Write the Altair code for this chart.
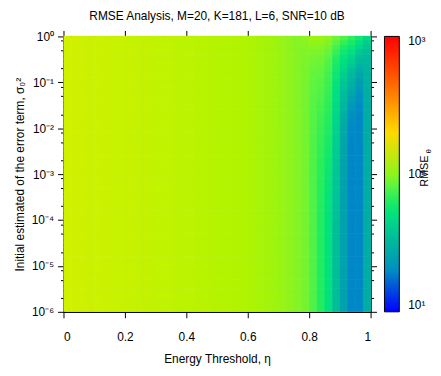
import altair as alt
import pandas as pd

FONT = "Liberation Sans"
FS = 12

# ---- grid (energy threshold columns, sigma rows: 10 rows per decade, top row first)
eta_edges = [round(0.025 * k, 4) for k in range(41)]
log_sigma_edges = [round(-0.1 * r, 2) for r in range(61)]
N_ROWS = 60

# RMSE read per column (rows without vertical change)
base_rmse = [138, 137, 136, 135, 134, 133, 132, 131, 130, 129,
             128, 127, 126, 125, 124, 123, 122, 121, 120, 119,
             118, 117, 116, 115, 113, 111, 109, 107, 104, 100,
             96, 90, 78, 65, 51, 36, 25, 19, 19, 28]


def column(head, tail_value):
    return head + [tail_value] * (N_ROWS - len(head))


# columns whose RMSE changes from the top row (sigma^2 = 1) downwards
profile_rmse = {
    31: column([100, 98, 96.5, 95, 94, 93, 92.5, 92, 91.5, 91, 91, 90.5, 90.5], 90),
    32: column([106, 101, 97, 94, 91, 89, 87.5, 86, 85, 84, 83, 82.5, 82, 81.5, 81,
                80.5, 80, 80, 79.5, 79.5, 79, 79, 78.5, 78.5], 78),
    33: column([105, 100, 96, 93, 90, 88, 86, 84, 82.5, 81, 80, 79, 78, 77, 76, 75, 74,
                73, 72.5, 72, 71, 70.5, 70, 69.5, 69, 68.5, 68, 67.5, 67.5, 67, 67, 66.5,
                66.5, 66, 66, 66, 65.5, 65.5, 65.5, 65.5], 65),
    34: column([100, 94, 89, 85, 82, 79, 77, 75.5, 74, 73, 72, 71, 70, 69, 68, 67.5,
                66.5, 65.5, 65, 64, 63, 62, 61, 60, 59, 58, 57, 56.5, 56, 55, 54.5, 54,
                53.5, 53, 52.5, 52.5, 52, 52, 51.5, 51.5], 51),
    35: column([88, 81, 75, 70, 66, 63, 60, 58, 56, 54, 52.5, 51, 50, 49, 48, 47, 46.5,
                45.5, 45, 44, 43.5, 43, 42.5, 42, 41.5, 41, 40.5, 40, 39.5, 39, 38.5,
                38.5, 38, 38, 37.5, 37.5, 37, 37, 36.5, 36.5], 36),
    36: column([78, 69, 62, 57, 53, 50, 47, 45, 42, 40, 38, 36.5, 35, 34, 33, 32, 30.5,
                29, 28, 27.5, 27, 26.5, 26, 26, 25.5, 25.5, 25.5], 25),
    37: column([68, 60, 54, 50, 46, 42, 39, 36, 33, 31, 29, 28, 26, 24.5, 23, 22, 21,
                20.5, 20, 19.5, 19.5], 19),
    38: column([57, 49, 44, 40, 36, 33, 30, 28, 26, 24.5, 23, 22, 21, 20.5, 20, 19.5,
                19.5], 19),
    39: column([45, 41, 38, 36, 34, 33, 32, 31, 30.5, 30, 29.5, 29, 29, 28.5, 28.5], 28),
}

rows = []
for i in range(40):
    prof = profile_rmse.get(i)
    for r in range(N_ROWS):
        rows.append({
            "eta0": eta_edges[i], "eta1": eta_edges[i + 1],
            "s_hi": 10 ** log_sigma_edges[r], "s_lo": 10 ** log_sigma_edges[r + 1],
            "rmse": prof[r] if prof else base_rmse[i],
        })
df = pd.DataFrame(rows)

# ---- colour map (position 0 = 10^1 ... 1 = 10^3)
cmap_pos = [0.0, 0.05, 0.10, 0.155, 0.21, 0.28, 0.35, 0.405, 0.46, 0.53, 0.585,
            0.64, 0.695, 0.765, 0.84, 1.0]
cmap_colors = ["#0000ff", "#0040f0", "#0070d8", "#0090c0", "#00a8a8", "#00c098",
               "#00e080", "#20ec60", "#60f440", "#b0f400", "#dcf000", "#ffe000",
               "#ffc000", "#ff9000", "#ff6000", "#ff0000"]
color_scale = alt.Scale(type="log", domain=[10 ** (1 + 2 * p) for p in cmap_pos],
                        range=cmap_colors, interpolate="rgb")

x_ticks = [0, 0.2, 0.4, 0.6, 0.8, 1]
y_major = [10.0 ** e for e in range(-6, 1)]
y_minor = [m * 10.0 ** e for e in range(-6, 0) for m in (2, 5, 8)]
y_ticks = sorted(y_major + y_minor)

major_test = "abs(log(datum.value)/LN10 - round(log(datum.value)/LN10)) < 0.01"
y_label_expr = ("abs(log(datum.value)/LN10 - round(log(datum.value)/LN10)) > 0.01 ? '' : "
                "'10' + ['\u2070','\u207b\u00b9','\u207b\u00b2','\u207b\u00b3','\u207b\u2074',"
                "'\u207b\u2075','\u207b\u2076'][-round(log(datum.value)/LN10)]")

xs = alt.Scale(domain=[0, 1], nice=False, zero=False)
ys = alt.Scale(type="log", domain=[1e-6, 1], nice=False)

heat = alt.Chart(df).mark_rect(x2Offset=0.6, y2Offset=-0.6).encode(
    x=alt.X("eta0:Q", scale=xs,
            axis=alt.Axis(orient="bottom", values=x_ticks, format="~g", tickSize=6,
                          labelPadding=14, titlePadding=11,
                          title="Energy Threshold,  \u03b7")),
    x2="eta1",
    y=alt.Y("s_lo:Q", scale=ys,
            axis=alt.Axis(orient="left", values=y_ticks, labelExpr=y_label_expr,
                          tickSize={"condition": {"test": major_test, "value": 6}, "value": 3},
                          labelPadding=4, titlePadding=5,
                          title="Initial estimated of the error term,  \u03c3\u2080\u00b2")),
    y2="s_hi",
    color=alt.Color("rmse:Q", scale=color_scale,
                    legend=alt.Legend(type="gradient", orient="none", legendX=324, legendY=0,
                                      direction="vertical", title=None,
                                      gradientLength=278, gradientThickness=15,
                                      gradientStrokeColor="black", gradientStrokeWidth=1,
                                      values=[10, 100, 1000],
                                      labelExpr="datum.value < 50 ? '10\u00b9' : datum.value < 500 ? '10\u00b2' : '10\u00b3'",
                                      labelBaseline="middle", labelOffset=9,
                                      labelFont=FONT, labelFontSize=FS, labelColor="black")),
)

mirror_df = pd.DataFrame({"eta0": [0, 1], "s_lo": [1e-6, 1]})
mirror = alt.Chart(mirror_df).mark_point(opacity=0).encode(
    x=alt.X("eta0:Q", scale=xs,
            axis=alt.Axis(orient="top", values=x_ticks, labels=False, tickSize=6, title=None)),
    y=alt.Y("s_lo:Q", scale=ys,
            axis=alt.Axis(orient="right", values=y_ticks, labels=False, title=None,
                          tickSize={"condition": {"test": major_test, "value": 6}, "value": 3})),
)

t_main = alt.Chart(pd.DataFrame({"t": ["RMSE"]})).mark_text(
    angle=270, font=FONT, fontSize=11, color="black", align="center", baseline="middle"
).encode(x=alt.value(365), y=alt.value(136), text="t:N")
t_sub = alt.Chart(pd.DataFrame({"t": ["\u03b8"]})).mark_text(
    angle=270, font=FONT, fontSize=8, color="black", align="center", baseline="middle"
).encode(x=alt.value(369), y=alt.value(116), text="t:N")

chart = alt.layer(heat, mirror, t_main, t_sub).resolve_axis(
    x="independent", y="independent"
).properties(
    width=310, height=278,
    padding={"left": 5, "top": 0, "right": 0, "bottom": 0},
    title=alt.TitleParams("RMSE Analysis, M=20, K=181, L=6, SNR=10 dB", font=FONT,
                          fontSize=FS, fontWeight="normal", color="black",
                          anchor="middle", frame="group", offset=7),
).configure_view(stroke="black", strokeWidth=1).configure_axis(
    domainColor="black", tickColor="black", labelColor="black", titleColor="black",
    labelFont=FONT, titleFont=FONT, labelFontSize=FS, titleFontSize=FS,
    titleFontWeight="normal", grid=False,
)

chart.save("out.html", embed_options={"renderer": "svg", "actions": False})
